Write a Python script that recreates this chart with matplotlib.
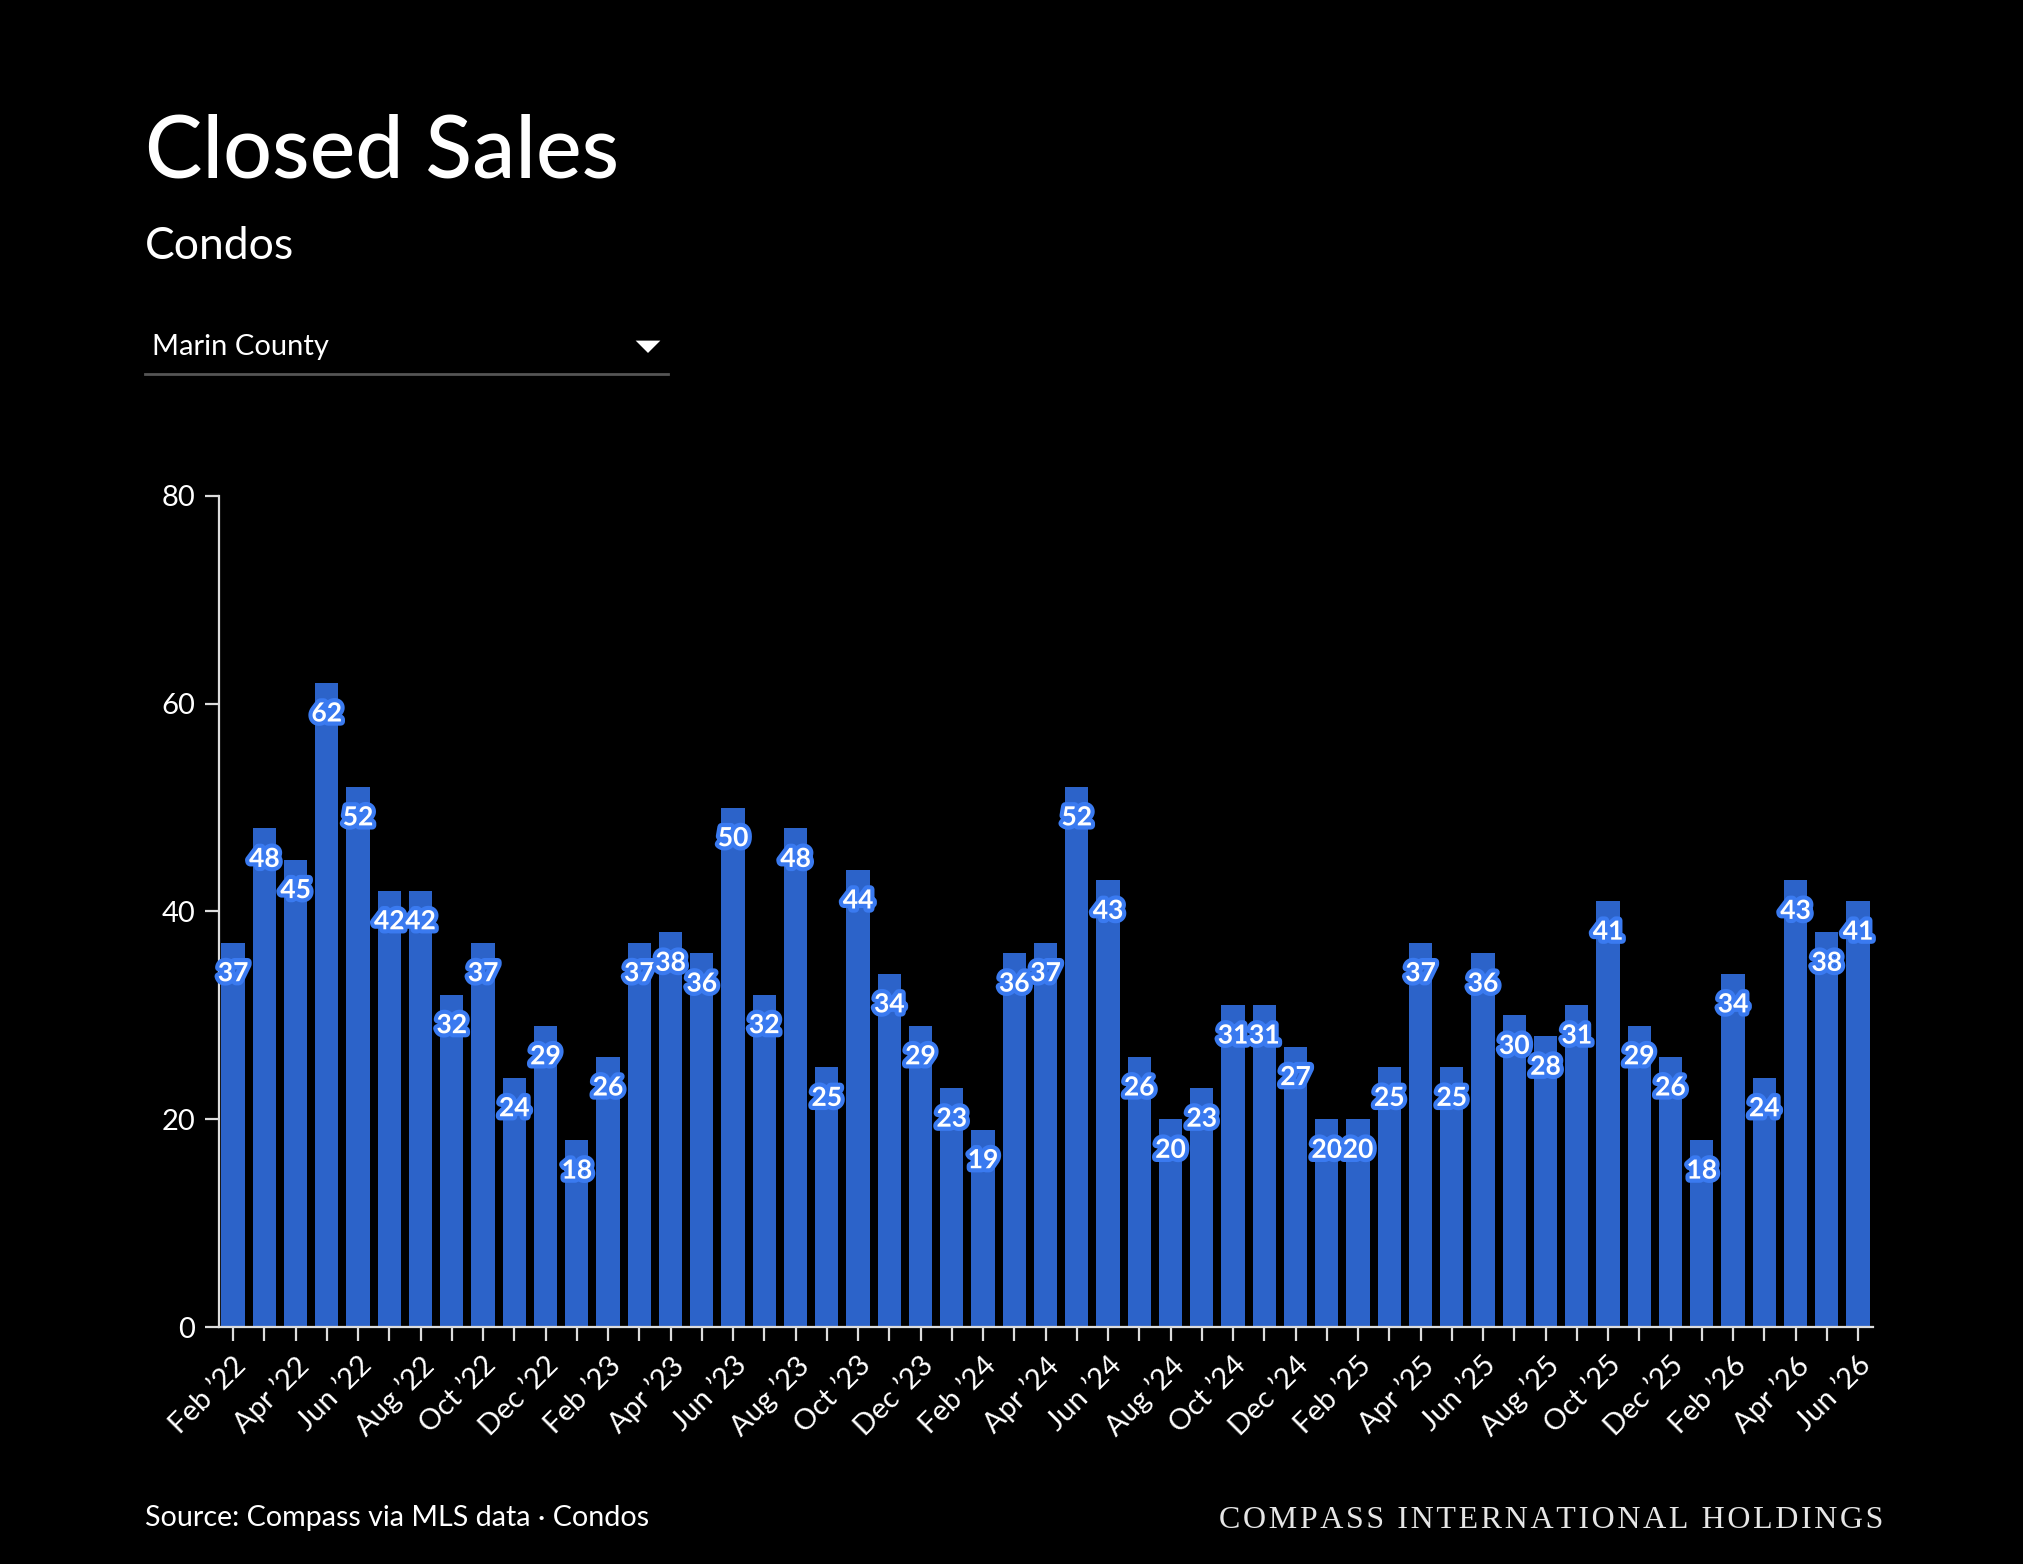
import matplotlib.pyplot as plt
import matplotlib.patheffects as pe

# данные: закрытые продажи кондо, Marin County
months = ['Feb', 'Mar', 'Apr', 'May', 'Jun', 'Jul', 'Aug', 'Sep', 'Oct', 'Nov', 'Dec', 'Jan']
labels = []
m, yr = 0, 22
for i in range(53):
    labels.append(months[m] + " \u2019" + str(yr))
    m += 1
    if m == 11:
        yr += 1
    if m == 12:
        m = 0

sales = [37, 48, 45, 62, 52, 42, 42, 32, 37, 24, 29, 18,
         26, 37, 38, 36, 50, 32, 48, 25, 44, 34, 29, 23,
         19, 36, 37, 52, 43, 26, 20, 23, 31, 31, 27, 20,
         20, 25, 37, 25, 36, 30, 28, 31, 41, 29, 26, 18,
         34, 24, 43, 38, 41]

bar_color = '#2c63c9'
edge_blue = '#3a7af0'
font = 'Lato'

plt.rcParams['font.family'] = [font, 'DejaVu Sans']

fig = plt.figure(figsize=(10.12, 7.82), dpi=200, facecolor='black')
ax = fig.add_axes([0.1082, 0.1515, 0.8172, 0.5314])
ax.set_facecolor('black')

x = list(range(len(sales)))
ax.bar(x, sales, width=0.74, color=bar_color, zorder=2)

for xi, v in zip(x, sales):
    ax.annotate(str(v), (xi, v), xytext=(0, -11), textcoords='offset points',
                ha='center', va='center', color='white', fontsize=9.5,
                fontweight='bold', zorder=3,
                path_effects=[pe.withStroke(linewidth=3, foreground=edge_blue)])

ax.set_xlim(-0.45, 52.48)
ax.set_ylim(0, 80)
ax.set_yticks([0, 20, 40, 60, 80])
ax.set_xticks(x)
ax.set_xticklabels([l if i % 2 == 0 else '' for i, l in enumerate(labels)],
                   rotation=45, ha='right', va='top', rotation_mode='anchor')

for s in ['top', 'right']:
    ax.spines[s].set_visible(False)
ax.spines['left'].set_color('#dddddd')
ax.spines['bottom'].set_color('#dddddd')
ax.spines['left'].set_linewidth(0.8)
ax.spines['bottom'].set_linewidth(0.8)
ax.tick_params(axis='both', colors='#dddddd', labelcolor='white', labelsize=10.5,
               length=5, width=0.8)
ax.tick_params(axis='x', pad=4)

# заголовки
fig.text(145 / 2024, 1 - 178 / 1564, 'Closed Sales', color='white', fontsize=31,
         fontweight='medium', ha='left', va='baseline')
fig.text(145 / 2024, 1 - 259 / 1564, 'Condos', color='white', fontsize=16,
         ha='left', va='baseline')
fig.text(152 / 2024, 1 - 355 / 1564, 'Marin County', color='white', fontsize=10.5,
         ha='left', va='baseline')
fig.add_artist(plt.Polygon([[639 / 2024, 1 - 342 / 1564], [657 / 2024, 1 - 342 / 1564],
                            [648 / 2024, 1 - 351 / 1564]], closed=True,
                           color='white', transform=fig.transFigure))
fig.add_artist(plt.Line2D([145 / 2024, 668 / 2024], [1 - 374 / 1564, 1 - 374 / 1564],
                          color='#555555', linewidth=1))

# подвал
fig.text(145 / 2024, 1 - 1526 / 1564, 'Source: Compass via MLS data \u00b7 Condos',
         color='white', fontsize=10.3, ha='left', va='baseline')
fig.text(1883 / 2024, 1 - 1528 / 1564, '\u200a'.join('COMPASS INTERNATIONAL HOLDINGS'),
         color='#e6e6e6', fontsize=11.5, ha='right', va='baseline',
         family=['Liberation Serif', 'DejaVu Serif'])

fig.savefig('out.png', dpi=200, facecolor='black')
